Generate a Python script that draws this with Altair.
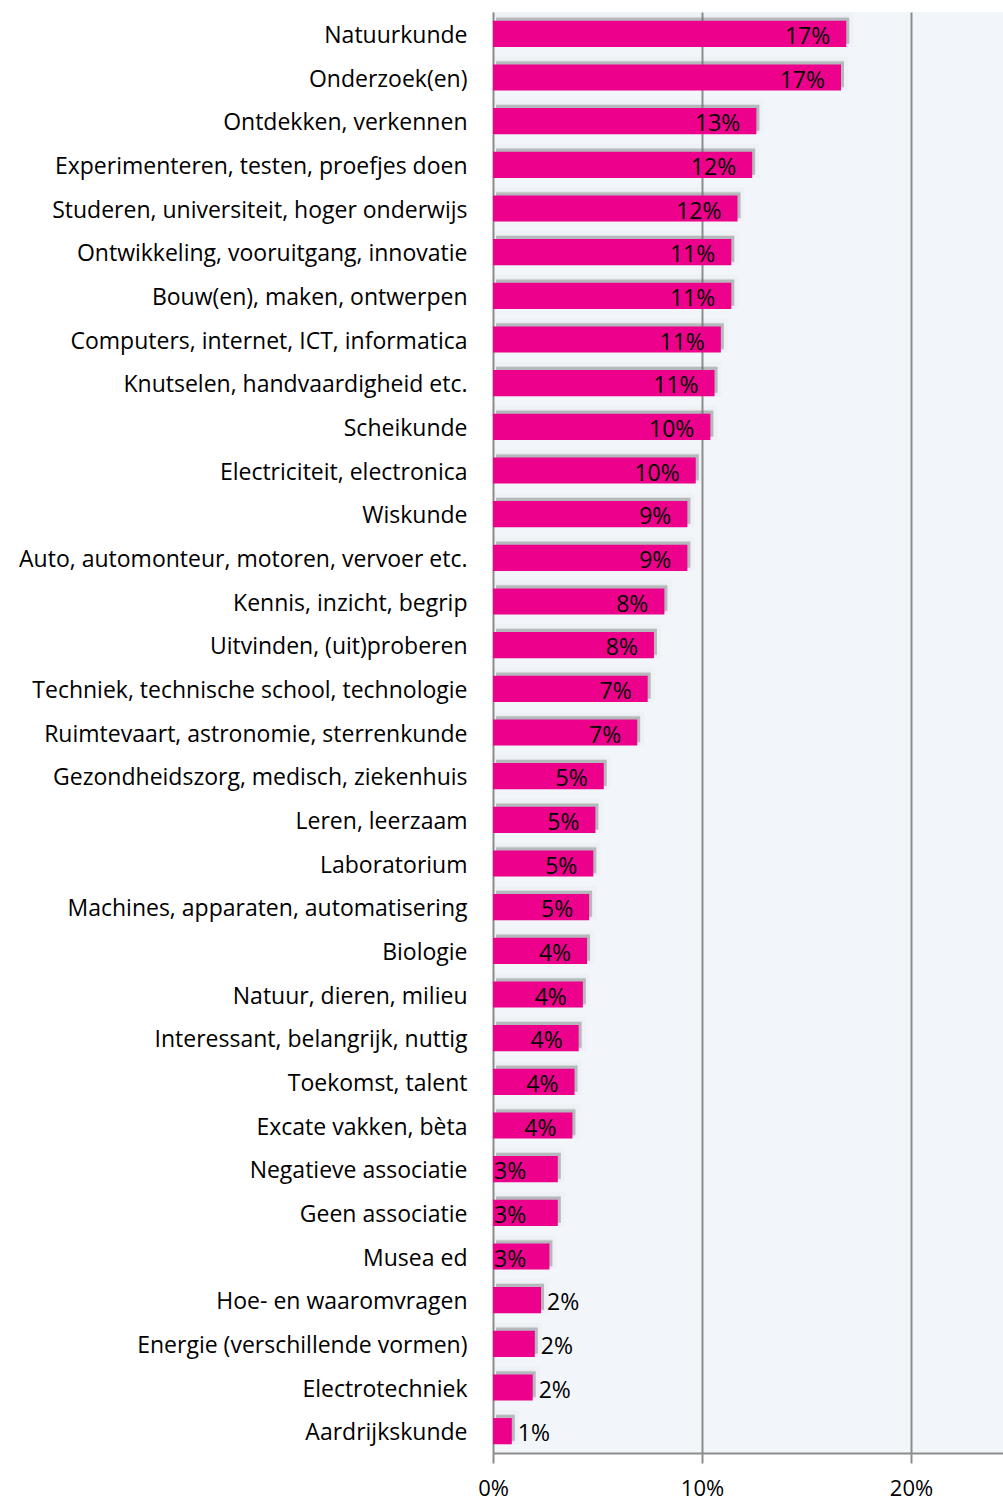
import altair as alt
import pandas as pd

categories = [
    "Natuurkunde", "Onderzoek(en)", "Ontdekken, verkennen",
    "Experimenteren, testen, proefjes doen", "Studeren, universiteit, hoger onderwijs",
    "Ontwikkeling, vooruitgang, innovatie", "Bouw(en), maken, ontwerpen",
    "Computers, internet, ICT, informatica", "Knutselen, handvaardigheid etc.",
    "Scheikunde", "Electriciteit, electronica", "Wiskunde",
    "Auto, automonteur, motoren, vervoer etc.", "Kennis, inzicht, begrip",
    "Uitvinden, (uit)proberen", "Techniek, technische school, technologie",
    "Ruimtevaart, astronomie, sterrenkunde", "Gezondheidszorg, medisch, ziekenhuis",
    "Leren, leerzaam", "Laboratorium", "Machines, apparaten, automatisering",
    "Biologie", "Natuur, dieren, milieu", "Interessant, belangrijk, nuttig",
    "Toekomst, talent", "Excate vakken, bèta", "Negatieve associatie",
    "Geen associatie", "Musea ed", "Hoe- en waaromvragen",
    "Energie (verschillende vormen)", "Electrotechniek", "Aardrijkskunde",
]
values = [16.9, 16.65, 12.6, 12.4, 11.7, 11.4, 11.4, 10.9, 10.6, 10.4, 9.7, 9.3,
          9.3, 8.2, 7.7, 7.4, 6.9, 5.3, 4.9, 4.8, 4.6, 4.5, 4.3, 4.1, 3.9, 3.8,
          3.1, 3.1, 2.7, 2.3, 2.0, 1.9, 0.9]
labels = ["17%", "17%", "13%", "12%", "12%", "11%", "11%", "11%", "11%", "10%",
          "10%", "9%", "9%", "8%", "8%", "7%", "7%", "5%", "5%", "5%", "5%", "4%",
          "4%", "4%", "4%", "4%", "3%", "3%", "3%", "2%", "2%", "2%", "1%"]
x_ticks = [0, 10, 20]

df = pd.DataFrame({"cat": categories, "val": values, "lab": labels})
df["zero"] = 0.0

BAR = "#EC008C"
GRID = "#8C8C8C"
FONT = "Open Sans"
FS = 23

y_enc = alt.Y("cat:N", sort=categories, title=None,
              scale=alt.Scale(paddingInner=0.4, paddingOuter=0.2),
              axis=alt.Axis(labelFontSize=FS, labelFont=FONT, labelColor="#000000",
                            labelPadding=26, labelOffset=2, ticks=False, domain=False,
                            labelLimit=500))
x_scale = alt.Scale(domain=[0, 24.4], nice=False, zero=True)
x_enc = alt.X("val:Q", scale=x_scale, title=None,
              axis=alt.Axis(values=x_ticks, labelExpr="datum.value + '%'",
                            labelFontSize=22, labelFont=FONT, labelColor="#000000",
                            labelPadding=15, labelFlush=False, labelOverlap=False,
                            tickSize=10, tickColor=GRID, tickWidth=2,
                            domainColor=GRID, domainWidth=2,
                            grid=True, gridColor=GRID, gridWidth=2))

base = alt.Chart(df)

shadow1 = base.mark_bar(color="#7f7f7f", opacity=0.18, xOffset=3, yOffset=-4,
                        stroke="#7f7f7f", strokeWidth=8, strokeOpacity=0.14).encode(
    x=x_enc, y=y_enc)
shadow2 = base.mark_bar(color="#6f6f6f", opacity=0.35, xOffset=3, yOffset=-3).encode(
    x=alt.X("val:Q", scale=x_scale), y=alt.Y("cat:N", sort=categories))
bars = base.mark_bar(color=BAR).encode(
    x=alt.X("val:Q", scale=x_scale), y=alt.Y("cat:N", sort=categories))

inside = base.transform_filter("datum.val >= 3.5").mark_text(
    align="right", baseline="middle", dx=-16, dy=3, fontSize=FS, font=FONT, color="#000000"
).encode(x=alt.X("val:Q", scale=x_scale), y=alt.Y("cat:N", sort=categories), text="lab:N")

inbase = base.transform_filter("datum.val >= 2.5 && datum.val < 3.5").mark_text(
    align="left", baseline="middle", dx=1, dy=3, fontSize=FS, font=FONT, color="#000000"
).encode(x=alt.X("zero:Q", scale=x_scale), y=alt.Y("cat:N", sort=categories), text="lab:N")

outside = base.transform_filter("datum.val < 2.5").mark_text(
    align="left", baseline="middle", dx=6, dy=3, fontSize=FS, font=FONT, color="#000000"
).encode(x=alt.X("val:Q", scale=x_scale), y=alt.Y("cat:N", sort=categories), text="lab:N")

chart = alt.layer(shadow1, shadow2, bars, inside, inbase, outside).properties(
    width=510, height=1441,
    autosize=alt.AutoSizeParams(type="none"),
    padding={"left": 493, "top": 12, "right": 0, "bottom": 51},
    background="#FFFFFF",
).configure_view(fill="#F2F6FA", stroke=None)

chart.save("out.html", embed_options={"renderer": "svg", "actions": False})
